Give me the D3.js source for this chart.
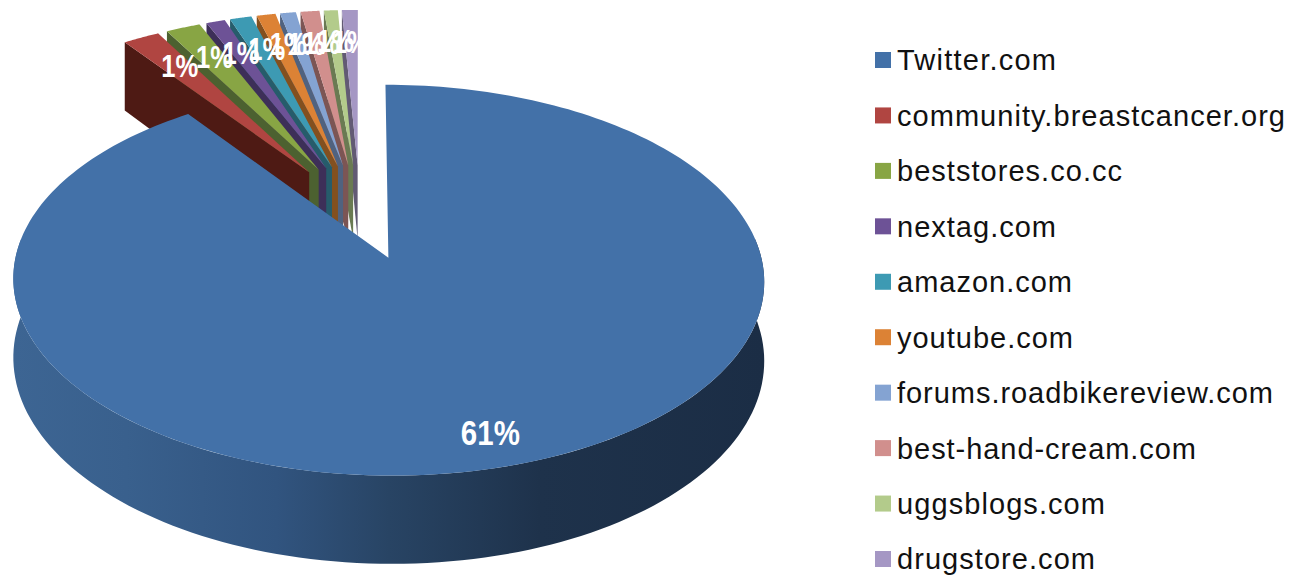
<!DOCTYPE html>
<html>
<head>
<meta charset="utf-8">
<script src="https://cdn.jsdelivr.net/npm/d3@7/dist/d3.min.js"></script>
<style>
html, body { margin: 0; padding: 0; background: #fff; }
svg { display: block; }
text { font-family: "Liberation Sans", Arial, sans-serif; }
</style>
</head>
<body>
<div id="chart"></div>
<script>
var sites = ['Twitter.com', 'community.breastcancer.org', 'beststores.co.cc', 'nextag.com', 'amazon.com',
	'youtube.com', 'forums.roadbikereview.com', 'best-hand-cream.com', 'uggsblogs.com', 'drugstore.com'];
// slice sizes (they do not match the printed labels)
var shares = [90.15, 1.85, 1.75, 0.95, 1.1, 0.95, 0.8, 0.95, 0.7, 0.8];
var labels = ['61%', '1%', '1%', '1%', '1%', '1%', '1%', '1%', '1%', '1%'];
var colors = ['#4371a8', '#b04541', '#88a544', '#6d5296', '#3d9ab3', '#dc8235', '#84a3d2', '#d18f8d', '#b3cb8b', '#a597c4'];
var wallColors = ['#2f5583', '#4e1a14', '#4c6130', '#3d2f58', '#265c6b', '#83501f', '#50627f', '#7c5554', '#6a7a52', '#625a74'];
var legendWidths = [159, 388, 225, 159, 175, 176, 376, 299, 208, 198];

var width = 1303, height = 576;
var explodeMain = 0.25, explodeSmall = 0.27, persp = 0.112, depth = 76;

var svg = d3.select('#chart').append('svg').attr('width', width).attr('height', height);

// disc space to screen, with a little perspective
var xScale = d3.scaleLinear().domain([0, 1]).range([360, 723]);
var yScale = d3.scaleLinear().domain([0, 1]).range([213, 30.3]);
var zScale = d3.scaleLinear().domain([0, 1]).range([0, depth]);

function project(X, Y, z) {
	var w = 1 + persp * Y;
	return [xScale(X / w), yScale(Y / w) + zScale(z || 0) / w];
}

var pie = d3.pie().value(function(d) { return d; }).sort(null);
var slices = pie(shares);

function offset(d) {
	var mid = (d.startAngle + d.endAngle) / 2;
	var e = d.index == 0 ? explodeMain : explodeSmall;
	return [e * Math.sin(mid), e * Math.cos(mid)];
}
function rimPoint(d, a, r, z) {
	var o = offset(d);
	return project(o[0] + r * Math.sin(a), o[1] + r * Math.cos(a), z);
}
function arcAngles(a0, a1, n) {
	return d3.range(0, n + 1).map(function(i) { return a0 + (a1 - a0) * i / n; });
}
var line = d3.line();

// blue outer wall shading
var grad = svg.append('defs').append('linearGradient').attr('id', 'wall')
	.attr('gradientUnits', 'userSpaceOnUse')
	.attr('x1', 14).attr('x2', 765).attr('y1', 0).attr('y2', 0);
[[0, '#3d6593'], [0.15, '#39608d'], [0.35, '#31547f'], [0.5, '#284464'], [0.7, '#1e324b'], [1, '#1b2d45']].forEach(function(s) {
	grad.append('stop').attr('offset', s[0]).attr('stop-color', s[1]);
});

// small slices, right one first so the left ones cover its wall
d3.range(slices.length - 1, 0, -1).forEach(function(i) {
	var d = slices[i];
	var apexTop = rimPoint(d, 0, 0), apexLow = rimPoint(d, 0, 0, 1);
	var wall = [apexTop, rimPoint(d, d.startAngle, 1), rimPoint(d, d.startAngle, 1, 1), apexLow];
	svg.append('path').attr('d', line(wall) + 'Z').attr('fill', wallColors[i]);
	var top = [apexTop].concat(arcAngles(d.startAngle, d.endAngle, 30).map(function(a) { return rimPoint(d, a, 1); }));
	svg.append('path').attr('d', line(top) + 'Z').attr('fill', colors[i]);
});

// Twitter slice
var tw = slices[0];
var front = arcAngles(Math.PI / 2 - 0.1, Math.PI * 3 / 2 + 0.1, 120);
var outer = front.map(function(a) { return rimPoint(tw, a, 1); });
var lower = front.map(function(a) { return rimPoint(tw, a, 1, 1); }).reverse();
svg.append('path').attr('d', line(outer.concat(lower)) + 'Z').attr('fill', 'url(#wall)');
var twTop = [rimPoint(tw, 0, 0)].concat(arcAngles(tw.startAngle, tw.endAngle, 240).map(function(a) {
	return rimPoint(tw, a, 1);
}));
svg.append('path').attr('d', line(twTop) + 'Z').attr('fill', colors[0]);

// labels, squeezed like the picture and left overlapping as it has them
var labelRadius = [0.84, 0.78, 0.79, 0.8, 0.82, 0.83, 0.82, 0.82, 0.82, 0.82];
var nudgeX = [-6, 4, 5, 5, 11, 11, 9, 5, 1, 0];
var nudgeY = [5, 1, 2, 4, 6, 5, 6, 6, 5, 6];
slices.forEach(function(d, i) {
	var p = rimPoint(d, (d.startAngle + d.endAngle) / 2, labelRadius[i]);
	svg.append('text').attr('x', p[0] + nudgeX[i]).attr('y', p[1] + nudgeY[i]).attr('dy', '0.35em')
		.attr('text-anchor', 'middle').attr('fill', '#fff')
		.attr('font-size', i == 0 ? 35 : 32).attr('font-weight', 'bold')
		.attr('textLength', i == 0 ? 59 : 37).attr('lengthAdjust', 'spacingAndGlyphs')
		.text(labels[i]);
});

// legend
var legendY = d3.scalePoint().domain(sites).range([60, 559]);
var legend = svg.append('g').selectAll('g').data(sites).enter().append('g')
	.attr('transform', function(d) { return 'translate(875,' + legendY(d) + ')'; });
legend.append('rect').attr('x', 0).attr('y', -8).attr('width', 16).attr('height', 16)
	.attr('fill', function(d, i) { return colors[i]; });
legend.append('text').attr('x', 22).attr('dy', '0.36em').attr('font-size', 29).attr('fill', '#111')
	.attr('textLength', function(d, i) { return legendWidths[i]; })
	.attr('lengthAdjust', 'spacing')
	.text(function(d) { return d; });
</script>
</body>
</html>
